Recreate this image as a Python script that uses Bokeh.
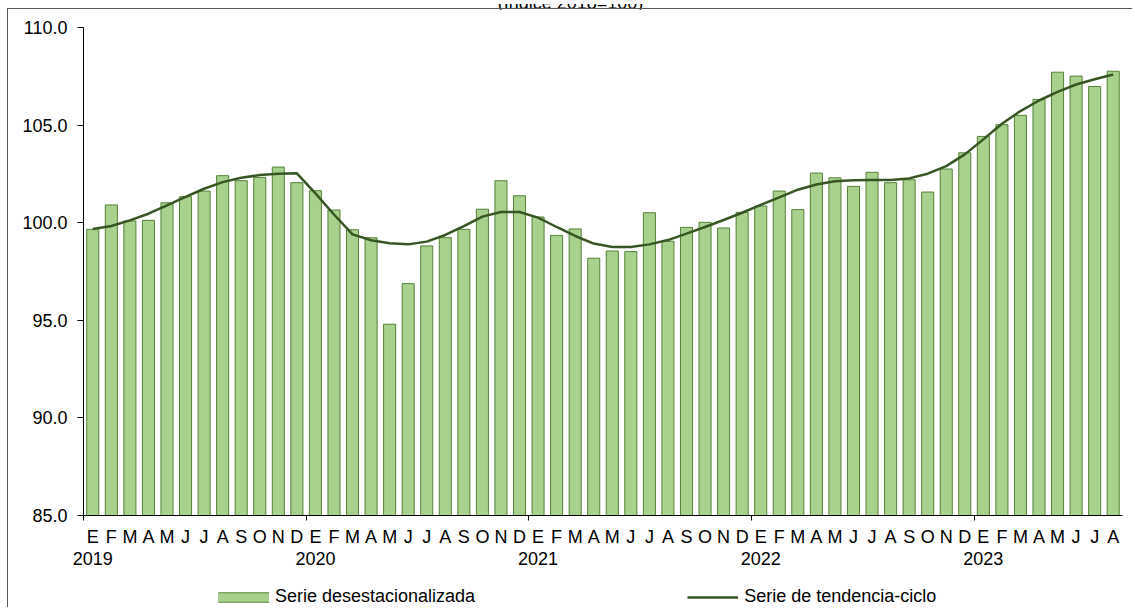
import numpy as np
from bokeh.plotting import figure
from bokeh.models import (Range1d, FixedTicker, LinearAxis, NumeralTickFormatter,
                          Legend, LegendItem, Div, ColumnDataSource)
from bokeh.layouts import column
from bokeh.embed import file_html
from bokeh.resources import INLINE

months = ["E", "F", "M", "A", "M", "J", "J", "A", "S", "O", "N", "D"]
years = ["2019", "2020", "2021", "2022", "2023"]

desest = [99.66, 100.91, 100.09, 100.12, 101.02, 101.33, 101.62, 102.41, 102.15, 102.32, 102.85, 102.05,
          101.64, 100.65, 99.64, 99.23, 94.80, 96.88, 98.81, 99.23, 99.66, 100.69, 102.15, 101.38,
          100.29, 99.35, 99.68, 98.18, 98.55, 98.52, 100.51, 99.05, 99.76, 100.02, 99.73, 100.53,
          100.85, 101.62, 100.67, 102.54, 102.30, 101.86, 102.58, 102.05, 102.20, 101.57, 102.75, 103.58,
          104.42, 105.02, 105.50, 106.31, 107.71, 107.51, 106.98, 107.76]

tendencia = [99.68, 99.83, 100.12, 100.46, 100.89, 101.32, 101.74, 102.08, 102.30, 102.44, 102.51, 102.53,
             101.50, 100.42, 99.40, 99.10, 98.95, 98.89, 99.03, 99.37, 99.83, 100.31, 100.55, 100.55,
             100.26, 99.78, 99.32, 98.93, 98.76, 98.76, 98.89, 99.11, 99.44, 99.78, 100.14, 100.51,
             100.91, 101.30, 101.69, 101.96, 102.12, 102.17, 102.19, 102.19, 102.27, 102.51, 102.90, 103.50,
             104.27, 105.07, 105.72, 106.26, 106.70, 107.08, 107.35, 107.59]

y_ticks = [85, 90, 95, 100, 105, 110]

FONT = "Liberation Sans"
FS = "18px"
BAR_FILL = "#A9D18E"
BAR_LINE = "#548235"
TREND = "#375623"
BORDER = "1.5px solid #595959"

n = len(desest)
labels = [months[i % 12] for i in range(n)]
xc = np.arange(n) + 0.5
src = ColumnDataSource(dict(x=xc, top=desest, trend=tendencia))

p = figure(width=1125, height=561, output_backend="svg", toolbar_location=None,
           x_range=Range1d(0, n), y_range=Range1d(85, 110),
           min_border_left=75, min_border_top=18, min_border_right=11, min_border_bottom=55,
           styles={"border-top": BORDER, "border-left": BORDER})
p.grid.visible = False
p.outline_line_color = None
p.background_fill_color = "white"
p.border_fill_color = "white"
p.below = []

bars = p.vbar(x="x", top="top", bottom=85, width=0.65, source=src,
              fill_color=BAR_FILL, line_color=BAR_LINE, line_width=1)
line = p.line(x="x", y="trend", source=src, line_color=TREND, line_width=2.5)

ya = p.yaxis[0]
ya.ticker = FixedTicker(ticks=y_ticks)
ya.formatter = NumeralTickFormatter(format="0.0")
ya.major_label_text_font = FONT
ya.major_label_text_font_size = FS
ya.major_label_text_color = "black"
ya.major_tick_in = 0
ya.major_tick_out = 6
ya.minor_tick_line_color = None
ya.major_label_standoff = 10
ya.axis_line_color = "black"
ya.major_tick_line_color = "black"

year_starts = [12 * k for k in range(len(years))]
ma = LinearAxis(ticker=FixedTicker(ticks=list(xc), minor_ticks=year_starts),
                major_label_overrides={float(x): lab for x, lab in zip(xc, labels)})
ma.major_tick_line_color = None
ma.major_tick_out = 0
ma.major_tick_in = 0
ma.minor_tick_in = 0
ma.minor_tick_out = 5
ma.minor_tick_line_color = "black"
ma.axis_line_color = "black"
ma.major_label_text_font = FONT
ma.major_label_text_font_size = FS
ma.major_label_text_color = "black"
ma.major_label_standoff = 6
p.add_layout(ma, "below")

yr_x = [s + 0.5 for s in year_starts]
ya2 = LinearAxis(ticker=FixedTicker(ticks=yr_x),
                 major_label_overrides={float(x): y for x, y in zip(yr_x, years)})
ya2.axis_line_color = None
ya2.major_tick_line_color = None
ya2.minor_tick_line_color = None
ya2.major_tick_out = 0
ya2.major_tick_in = 0
ya2.major_label_standoff = 2
ya2.major_label_text_font = FONT
ya2.major_label_text_font_size = FS
ya2.major_label_text_color = "black"
p.add_layout(ya2, "below")

# legend strip (separate small figure below the chart)
pl = figure(width=1125, height=38, output_backend="svg", toolbar_location=None,
            x_range=Range1d(0, 1), y_range=Range1d(0, 1),
            x_axis_location=None, y_axis_location=None,
            min_border_left=0, min_border_right=0, min_border_top=0, min_border_bottom=0,
            styles={"border-left": BORDER})
pl.grid.visible = False
pl.outline_line_color = None
pl.border_fill_color = "white"
pl.background_fill_color = "white"

nan_src = ColumnDataSource(dict(x=[np.nan], y=[np.nan]))
sw_out = pl.line(x="x", y="y", source=nan_src, line_color=BAR_LINE, line_width=10.5, line_cap="butt")
sw_in = pl.line(x="x", y="y", source=nan_src, line_color=BAR_FILL, line_width=8.5, line_cap="butt")
sw_line = pl.line(x="x", y="y", source=nan_src, line_color=TREND, line_width=2.5, line_cap="butt")

legend = Legend(items=[LegendItem(label="Serie desestacionalizada", renderers=[sw_out, sw_in]),
                       LegendItem(label="Serie de tendencia-ciclo", renderers=[sw_line])],
                orientation="horizontal", location=(135, 0),
                glyph_width=51, glyph_height=12, label_standoff=6, spacing=212,
                padding=0, margin=0, border_line_color=None, background_fill_alpha=0,
                label_text_font=FONT, label_text_font_size=FS, label_height=16,
                label_text_color="black")
pl.add_layout(legend, "center")

title_div = Div(
    text='<div style="height:8px;overflow:hidden;position:relative;width:1127px;">'
         '<div style="position:absolute;left:0;right:0;top:-13px;text-align:center;'
         'font-family:\'Liberation Sans\';font-size:18px;color:#000;white-space:nowrap;">'
         '(Índice 2018=100)</div></div>',
    width=1126, height=8, margin=0)

layout = column(title_div, p, pl, spacing=0, styles={"margin-left": "7px"})

open("out.html", "w").write(file_html(layout, INLINE))
